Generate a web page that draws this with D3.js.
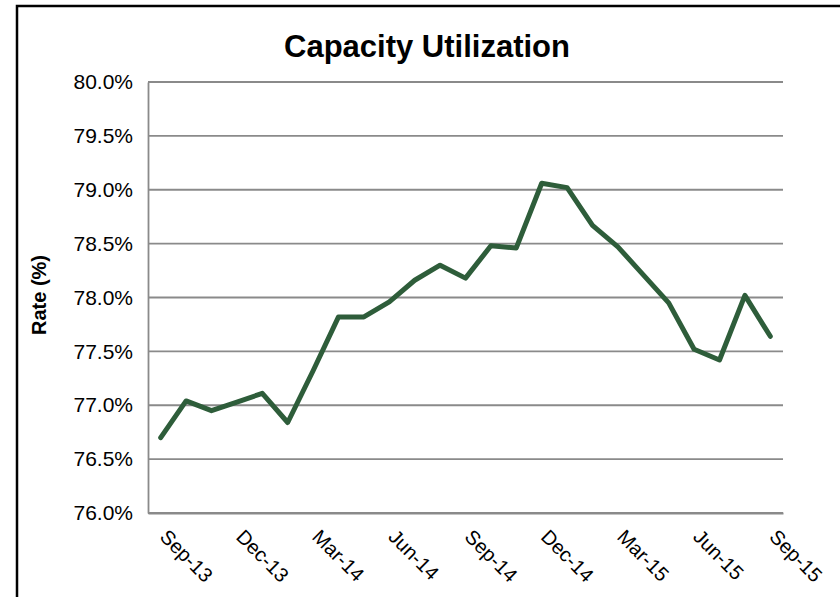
<!DOCTYPE html>
<html>
<head>
    <title>Capacity Utilization</title>
    <script src="https://d3js.org/d3.v7.min.js"></script>
    <style>
        body {margin: 0; background: #ffffff;}
        svg {display: block; font-family: Arial, "Liberation Sans", sans-serif;}
    </style>
</head>
<body>
<script>
    // months shown on the category axis (Sep-13 .. Sep-15)
    const months = ["Sep-13", "Oct-13", "Nov-13", "Dec-13", "Jan-14", "Feb-14", "Mar-14",
                    "Apr-14", "May-14", "Jun-14", "Jul-14", "Aug-14", "Sep-14", "Oct-14",
                    "Nov-14", "Dec-14", "Jan-15", "Feb-15", "Mar-15", "Apr-15", "May-15",
                    "Jun-15", "Jul-15", "Aug-15", "Sep-15"];

    // capacity utilization rate (%)
    const rates = [76.70, 77.04, 76.95, 77.03, 77.11, 76.84, 77.32, 77.82, 77.82, 77.96,
                   78.16, 78.30, 78.18, 78.48, 78.46, 79.06, 79.02, 78.67, 78.47, 78.21,
                   77.95, 77.52, 77.42, 78.02, 77.64];

    // labelled categories and y ticks
    const tickMonths = ["Sep-13", "Dec-13", "Mar-14", "Jun-14", "Sep-14", "Dec-14", "Mar-15", "Jun-15", "Sep-15"];
    const yTicks = [76.0, 76.5, 77.0, 77.5, 78.0, 78.5, 79.0, 79.5, 80.0];

    const width = 840;
    const height = 597;
    const plot = {left: 148, right: 783, top: 82, bottom: 513};

    const svg = d3.select("body")
        .append("svg")
        .attr("width", width)
        .attr("height", height);

    // outer chart border
    svg.append("rect")
        .attr("x", 17).attr("y", 6)
        .attr("width", 900).attr("height", 700)
        .attr("fill", "none")
        .attr("stroke", "#000")
        .attr("stroke-width", 2.5);

    const x = d3.scaleBand()
        .domain(months)
        .range([plot.left, plot.right])
        .padding(0);

    const y = d3.scaleLinear()
        .domain([76, 80])
        .range([plot.bottom, plot.top]);

    // gridlines
    svg.append("g")
        .selectAll("line")
        .data(yTicks)
        .join("line")
        .attr("x1", plot.left).attr("x2", plot.right)
        .attr("y1", d => y(d)).attr("y2", d => y(d))
        .attr("stroke", "#8a8a8a")
        .attr("stroke-width", 1.8);

    // y axis
    const yAxis = svg.append("g")
        .attr("transform", "translate(" + plot.left + ",0)")
        .call(d3.axisLeft(y).tickValues(yTicks).tickSize(0).tickPadding(15)
              .tickFormat(d => d3.format(".1f")(d) + "%"));
    yAxis.select(".domain").attr("stroke", "#8a8a8a").attr("stroke-width", 1.8);
    yAxis.selectAll("text")
        .attr("font-size", "21px")
        .attr("fill", "#000")
        .attr("font-family", "Arial, 'Liberation Sans', sans-serif");

    // x axis
    const xAxis = svg.append("g")
        .attr("transform", "translate(0," + plot.bottom + ")")
        .call(d3.axisBottom(x).tickValues(tickMonths).tickSize(0).tickFormat(d => d));
    xAxis.select(".domain").attr("stroke", "#8a8a8a").attr("stroke-width", 1.8);
    xAxis.selectAll("text")
        .attr("font-size", "20px")
        .attr("fill", "#000")
        .attr("font-family", "Arial, 'Liberation Sans', sans-serif")
        .attr("text-anchor", "start")
        .attr("dy", null)
        .attr("y", 0)
        .attr("transform", "translate(-2,25) rotate(45)");

    // line
    const line = d3.line()
        .x((d, i) => x(months[i]) + x.bandwidth() / 2)
        .y(d => y(d));

    svg.append("path")
        .datum(rates)
        .attr("d", line)
        .attr("fill", "none")
        .attr("stroke", "#2e5d3a")
        .attr("stroke-width", 5)
        .attr("stroke-linejoin", "round")
        .attr("stroke-linecap", "round");

    // title
    svg.append("text")
        .attr("x", 427).attr("y", 57)
        .attr("text-anchor", "middle")
        .attr("font-size", "31px")
        .attr("font-weight", "bold")
        .text("Capacity Utilization");

    // y axis title
    svg.append("text")
        .attr("transform", "translate(46,295) rotate(-90)")
        .attr("text-anchor", "middle")
        .attr("font-size", "20px")
        .attr("font-weight", "bold")
        .text("Rate (%)");
</script>
</body>
</html>
